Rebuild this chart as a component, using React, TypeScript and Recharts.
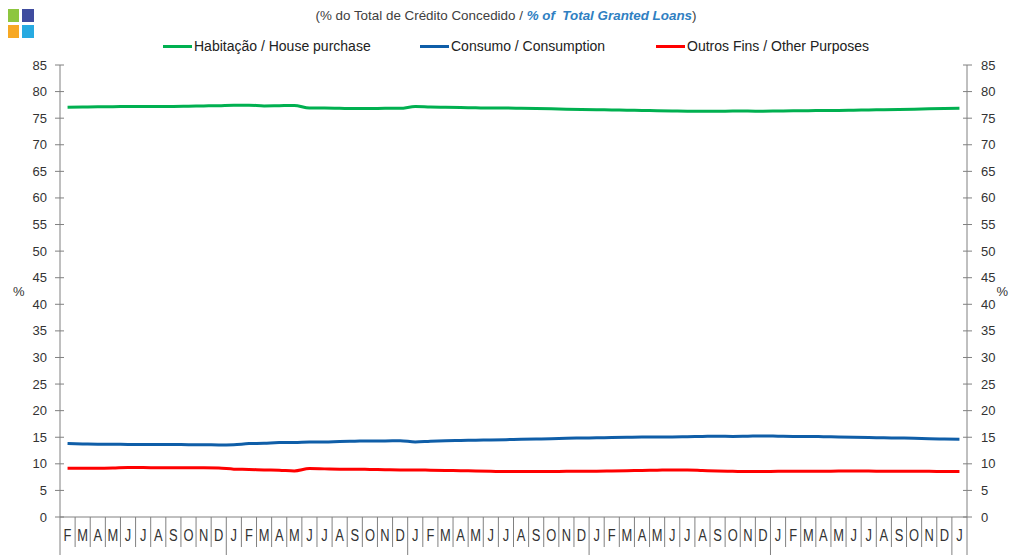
import React from 'react';
import { LineChart, Line, XAxis, YAxis } from 'recharts';

// month initials, first point is February
const MONTHS = [
  'F', 'M', 'A', 'M', 'J', 'J', 'A', 'S', 'O', 'N', 'D',
  'J', 'F', 'M', 'A', 'M', 'J', 'J', 'A', 'S', 'O', 'N', 'D',
  'J', 'F', 'M', 'A', 'M', 'J', 'J', 'A', 'S', 'O', 'N', 'D',
  'J', 'F', 'M', 'A', 'M', 'J', 'J', 'A', 'S', 'O', 'N', 'D',
  'J', 'F', 'M', 'A', 'M', 'J', 'J', 'A', 'S', 'O', 'N', 'D',
  'J',
];
const FIRST_MONTH = 1; // 0 = January

const HABITACAO = [
  77.05, 77.1, 77.15, 77.15, 77.2, 77.2, 77.2, 77.2, 77.25, 77.3, 77.35,
  77.45, 77.45, 77.3, 77.35, 77.4, 76.9, 76.9, 76.85, 76.8, 76.8, 76.85, 76.85,
  77.2, 77.1, 77.05, 77.0, 76.95, 76.9, 76.9, 76.85, 76.8, 76.75, 76.7, 76.65,
  76.6, 76.55, 76.5, 76.45, 76.4, 76.35, 76.3, 76.3, 76.3, 76.35, 76.35, 76.3,
  76.35, 76.4, 76.4, 76.45, 76.45, 76.5, 76.55, 76.6, 76.65, 76.7, 76.75, 76.8,
  76.85,
];
const CONSUMO = [
  13.8, 13.75, 13.7, 13.7, 13.65, 13.65, 13.65, 13.65, 13.6, 13.6, 13.55,
  13.6, 13.8, 13.85, 14.0, 14.0, 14.1, 14.1, 14.2, 14.25, 14.3, 14.3, 14.35,
  14.1, 14.25, 14.35, 14.4, 14.45, 14.5, 14.55, 14.6, 14.65, 14.7, 14.8, 14.85,
  14.9, 14.95, 15.0, 15.05, 15.05, 15.05, 15.1, 15.15, 15.2, 15.15, 15.2, 15.25,
  15.2, 15.15, 15.15, 15.1, 15.05, 15.0, 14.95, 14.9, 14.85, 14.8, 14.7, 14.65,
  14.6,
];
const OUTROS = [
  9.15, 9.15, 9.15, 9.2, 9.3, 9.3, 9.25, 9.25, 9.25, 9.25, 9.2,
  9.0, 8.95, 8.85, 8.8, 8.65, 9.1, 9.05, 9.0, 9.0, 8.95, 8.9, 8.85,
  8.85, 8.8, 8.75, 8.7, 8.65, 8.6, 8.55, 8.55, 8.55, 8.55, 8.6, 8.6,
  8.6, 8.65, 8.7, 8.75, 8.8, 8.85, 8.85, 8.75, 8.65, 8.6, 8.55, 8.55,
  8.6, 8.6, 8.6, 8.6, 8.65, 8.65, 8.65, 8.6, 8.6, 8.6, 8.6, 8.55,
  8.55,
];
const Y_TICKS = [0, 5, 10, 15, 20, 25, 30, 35, 40, 45, 50, 55, 60, 65, 70, 75, 80, 85];

const data = MONTHS.map((m, i) => ({
  k: String(i),
  hab: HABITACAO[i],
  con: CONSUMO[i],
  out: OUTROS[i],
}));

const W = 1012;
const H = 555;
const LEFT_W = 60;
const RIGHT_W = 45;
const PLOT_W = W - LEFT_W - RIGHT_W;
const BAND = PLOT_W / MONTHS.length;
const FONT = '"Liberation Sans", Arial, sans-serif';
const AXIS = '#808080';
const TEXT = '#333333';

const GREEN = '#00b050';
const BLUE = '#0f5ea8';
const RED = '#ff0000';

const LeftTick = (props: any) => {
  const { x, y, payload } = props;
  return (
    <g>
      <line x1={x - 5} x2={x + 4} y1={y} y2={y} stroke={AXIS} />
      <text x={x - 13} y={y} dy="0.35em" textAnchor="end" fontSize={13} fill={TEXT} fontFamily={FONT}>
        {payload.value}
      </text>
    </g>
  );
};

const RightTick = (props: any) => {
  const { x, y, payload } = props;
  return (
    <g>
      <line x1={x - 4} x2={x + 5} y1={y} y2={y} stroke={AXIS} />
      <text x={x + 14} y={y} dy="0.35em" textAnchor="start" fontSize={13} fill={TEXT} fontFamily={FONT}>
        {payload.value}
      </text>
    </g>
  );
};

const MonthTick = (props: any) => {
  const { x, y, payload } = props;
  const i = Number(payload.value);
  const left = x - BAND / 2;
  const yearStart = i === 0 || (FIRST_MONTH + i) % 12 === 0;
  const last = i === MONTHS.length - 1;
  return (
    <g>
      <line x1={left} x2={left} y1={y} y2={y + (yearStart ? 40 : 30)} stroke={AXIS} />
      {last && <line x1={x + BAND / 2} x2={x + BAND / 2} y1={y} y2={y + 40} stroke={AXIS} />}
      <text
        transform={`translate(${x},${y + 18}) scale(0.76,1)`}
        x={0}
        y={0}
        dy="0.35em"
        textAnchor="middle"
        fontSize={17}
        fill={TEXT}
        fontFamily={FONT}
      >
        {MONTHS[i]}
      </text>
    </g>
  );
};

const legendItems = [
  { label: 'Habitação / House purchase', color: GREEN, left: 163 },
  { label: 'Consumo / Consumption', color: BLUE, left: 420 },
  { label: 'Outros Fins / Other Purposes', color: RED, left: 656 },
];

export default function App() {
  return (
    <div style={{ position: 'absolute', left: 0, top: 0, width: W, height: H, background: '#fff', fontFamily: FONT }}>
      {/* logo */}
      <div style={{ position: 'absolute', left: 8, top: 9, width: 11, height: 13, background: '#8dc63f' }} />
      <div style={{ position: 'absolute', left: 22, top: 9, width: 12, height: 13, background: '#3f4c9f' }} />
      <div style={{ position: 'absolute', left: 8, top: 25, width: 11, height: 13, background: '#f7a823' }} />
      <div style={{ position: 'absolute', left: 22, top: 25, width: 12, height: 13, background: '#27aae1' }} />

      <div
        style={{
          position: 'absolute',
          top: 8,
          left: 0,
          width: W,
          textAlign: 'center',
          fontSize: 13.4,
          color: '#404040',
          whiteSpace: 'pre',
        }}
      >
        (% do Total de Crédito Concedido /{' '}
        <span style={{ color: '#2f80c2', fontWeight: 'bold', fontStyle: 'italic' }}>% of  Total Granted Loans</span>)
      </div>

      {legendItems.map((it) => (
        <div
          key={it.label}
          style={{ position: 'absolute', top: 38, left: it.left, display: 'flex', alignItems: 'center', fontSize: 14, color: '#222' }}
        >
          <span style={{ display: 'inline-block', width: 29, height: 3, background: it.color, marginRight: 2 }} />
          <span>{it.label}</span>
        </div>
      ))}

      <div style={{ position: 'absolute', left: 0, top: 0 }}>
        <LineChart width={W} height={H} data={data} margin={{ top: 65, right: 0, bottom: 0, left: 0 }}>
          <XAxis
            dataKey="k"
            interval={0}
            height={38}
            tickLine={false}
            tickSize={0}
            tickMargin={0}
            axisLine={{ stroke: AXIS }}
            padding={{ left: BAND / 2, right: BAND / 2 }}
            tick={<MonthTick />}
          />
          <YAxis
            yAxisId="left"
            orientation="left"
            width={LEFT_W}
            domain={[0, 85]}
            ticks={Y_TICKS}
            interval={0}
            tickLine={false}
            tickSize={0}
            tickMargin={0}
            axisLine={{ stroke: AXIS }}
            tick={<LeftTick />}
            label={{ value: '%', position: 'insideLeft', offset: 13, fill: TEXT, fontSize: 13, fontFamily: FONT }}
          />
          <YAxis
            yAxisId="right"
            orientation="right"
            width={RIGHT_W}
            domain={[0, 85]}
            allowDataOverflow
            type="number"
            ticks={Y_TICKS}
            interval={0}
            tickLine={false}
            tickSize={0}
            tickMargin={0}
            axisLine={{ stroke: AXIS }}
            tick={<RightTick />}
            label={{ value: '%', position: 'insideRight', offset: 4, fill: TEXT, fontSize: 13, fontFamily: FONT }}
          />
          <Line yAxisId="left" type="monotone" dataKey="hab" stroke={GREEN} strokeWidth={3} dot={false} isAnimationActive={false} />
          <Line yAxisId="left" type="monotone" dataKey="con" stroke={BLUE} strokeWidth={3} dot={false} isAnimationActive={false} />
          <Line yAxisId="left" type="monotone" dataKey="out" stroke={RED} strokeWidth={3} dot={false} isAnimationActive={false} />
        </LineChart>
      </div>
    </div>
  );
}
